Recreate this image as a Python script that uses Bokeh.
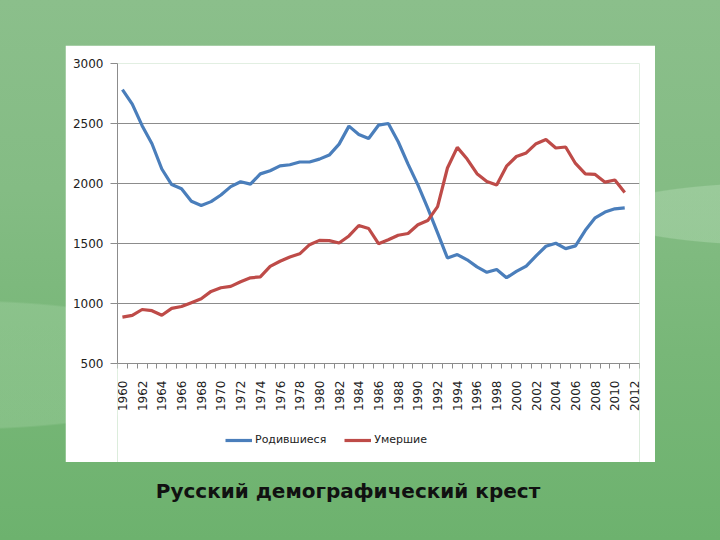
import math
from bokeh.plotting import figure
from bokeh.models import FixedTicker, Legend, LegendItem, Div, Range1d
from bokeh.layouts import column
from bokeh.embed import file_html
from bokeh.resources import INLINE

years = list(range(1960, 2012))
births = [2782, 2662, 2482, 2331, 2121, 1991, 1957, 1852, 1817, 1849,
          1904, 1974, 2015, 1995, 2080, 2106, 2147, 2156, 2179, 2179,
          2203, 2237, 2328, 2478, 2409, 2375, 2486, 2500, 2348, 2161,
          1989, 1795, 1588, 1379, 1408, 1364, 1305, 1260, 1283, 1215,
          1267, 1312, 1397, 1477, 1502, 1457, 1480, 1610, 1714, 1762,
          1789, 1797]
deaths = [886, 901, 950, 940, 902, 959, 975, 1007, 1039, 1101,
          1131, 1143, 1181, 1214, 1222, 1309, 1352, 1388, 1414, 1490,
          1526, 1524, 1504, 1563, 1650, 1625, 1498, 1531, 1569, 1583,
          1656, 1691, 1807, 2129, 2301, 2204, 2082, 2016, 1988, 2144,
          2225, 2255, 2332, 2366, 2296, 2304, 2167, 2080, 2076, 2011,
          2029, 1926]
y_ticks = [500, 1000, 1500, 2000, 2500, 3000]
x_label_years = list(range(1960, 2013, 2))
x_boundaries = [y - 0.5 for y in range(1960, 2014)]
series_names = ["Родившиеся", "Умершие"]
series_colors = ["#4a7ebb", "#be4b48"]
title_text = "Русский демографический крест"

FONT = "DejaVu Sans"
GRID = "#8c8c8c"
TXT = "#222222"

# frame: 399 px tall; 3000 at top, 500 at 300 px below top
Y_MIN, Y_MAX = 500, 3000
units_per_px = (Y_MAX - Y_MIN) / 300.0
y_start = Y_MAX - 399 * units_per_px

p = figure(width=590, height=417, output_backend="svg", toolbar_location=None,
           x_range=Range1d(1959.5, 2012.5), y_range=Range1d(y_start, Y_MAX),
           min_border_left=52, min_border_right=16, min_border_top=18,
           min_border_bottom=0, border_fill_color="white",
           background_fill_color="white", outline_line_color=None)
p.margin = (45, 0, 0, 65)

p.xgrid.visible = False
p.ygrid.grid_line_color = GRID
p.ygrid.grid_line_width = 1

ya = p.yaxis[0]
ya.ticker = FixedTicker(ticks=y_ticks)
ya.bounds = (Y_MIN, Y_MAX)
ya.axis_line_color = GRID
ya.major_tick_line_color = GRID
ya.major_tick_out = 7
ya.major_tick_in = 0
ya.minor_tick_line_color = None
ya.major_label_standoff = 7
ya.major_label_text_font = FONT
ya.major_label_text_font_size = "12px"
ya.major_label_text_color = TXT

xa = p.xaxis[0]
xa.fixed_location = Y_MIN
xa.ticker = FixedTicker(ticks=x_label_years, minor_ticks=x_boundaries)
xa.axis_line_color = GRID
xa.major_tick_out = 0
xa.major_tick_in = 0
xa.minor_tick_out = 5
xa.minor_tick_in = 0
xa.minor_tick_line_color = GRID
xa.major_label_orientation = math.pi / 2
xa.major_label_standoff = 12
xa.major_label_text_font = FONT
xa.major_label_text_font_size = "12px"
xa.major_label_text_color = TXT

r1 = p.line(years, births, line_color=series_colors[0], line_width=3.2)
r2 = p.line(years, deaths, line_color=series_colors[1], line_width=3.2)

legend = Legend(items=[LegendItem(label=series_names[0], renderers=[r1]),
                       LegendItem(label=series_names[1], renderers=[r2])],
                orientation="horizontal", location=(108, 16), margin=0,
                glyph_width=27, glyph_height=12, label_standoff=3, spacing=18,
                padding=0, border_line_alpha=0, background_fill_alpha=0,
                label_text_font=FONT, label_text_font_size="11px",
                label_text_color=TXT)
p.add_layout(legend)

title = Div(text=title_text, width=696, height=40, margin=(15, 0, 0, 0),
            styles={"font-family": "DejaVu Sans", "font-size": "20px",
                    "font-weight": "bold", "color": "#111111",
                    "text-align": "center"})

bg = ("radial-gradient(ellipse 190px 32px at 790px 214px, rgba(190,225,190,0.38) 97%, rgba(190,225,190,0) 100%), "
      "radial-gradient(ellipse 260px 65px at -40px 365px, rgba(180,220,180,0.28) 97%, rgba(180,220,180,0) 100%), "
      "linear-gradient(180deg, #8bbf8b 0%, #84bc84 35%, #78b778 65%, #6db26e 100%)")

page = column(p, title, width=720, height=540, spacing=0,
              styles={"background": bg})

open("out.html", "w").write(file_html(page, INLINE))
